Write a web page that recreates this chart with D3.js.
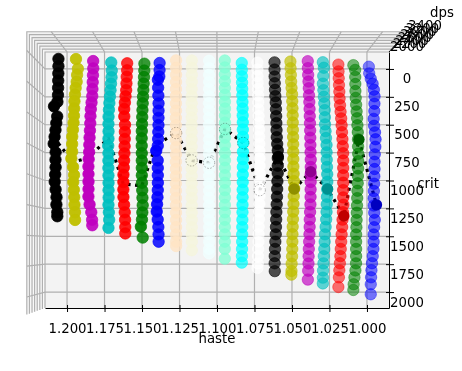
<!DOCTYPE html>
<html>
<head>
<meta charset="utf-8">
<script src="https://cdn.jsdelivr.net/npm/d3@7"></script>
<style>
    body { margin: 0; background: #fff; }
    text { font-family: "DejaVu Sans", sans-serif; }
    svg { filter: blur(0.45px); }
</style>
</head>
<body>
<script>
const w = 462;
const h = 371;

// one colour and one haste value per column
const colors = ["black", "#bfbf00", "#bf00bf", "#00bfbf", "red", "green", "blue", "bisque", "beige", "azure",
    "aquamarine", "aqua", "white", "black", "#bfbf00", "#bf00bf", "#00bfbf", "red", "green", "blue"];
const haste = [1.2, 1.189, 1.179, 1.168, 1.158, 1.147, 1.137, 1.126, 1.116, 1.105,
    1.095, 1.084, 1.074, 1.063, 1.053, 1.042, 1.032, 1.021, 1.011, 1.0];

// crit steps shared by the columns, last point of each column comes from critEnd
const critLevels = [0, 62, 124, 186, 248, 310, 372, 434, 496, 558, 620, 682, 744, 806, 868, 930, 992, 1054,
    1116, 1178, 1240, 1302, 1364, 1426, 1488, 1550, 1612, 1674, 1736, 1798, 1860, 1922, 1984];
const critEnd = [1336, 1367, 1410, 1434, 1480, 1515, 1550, 1587, 1623, 1650,
    1695, 1731, 1776, 1803, 1830, 1875, 1910, 1946, 1973, 2009];

// dps along each column, top to bottom
const dps0 = [2760, 2760, 2770, 2780, 2790, 2800, 2850, 3150, 2870, 2950, 3020, 3100, 3180, 3010, 3020, 3010, 3050, 3090, 3010, 2930, 2940, 2860, 2860];
const dps1 = [2750, 2560, 2640, 2680, 2780, 2850, 2900, 2930, 2950, 2990, 3050, 3120, 3130, 3130, 3210, 3040, 2940, 3020, 2960, 2920, 2900, 2850, 2840];
const dps2 = [2600, 2590, 2620, 2650, 2680, 2700, 2780, 2860, 2900, 2920, 2960, 3000, 3030, 3050, 3100, 3130, 3120, 3120, 3120, 3130, 3000, 2810, 2720, 2700];
const dps3 = [2490, 2420, 2450, 2520, 2580, 2660, 2730, 2790, 2840, 2850, 2840, 2850, 2880, 2850, 2860, 2860, 2850, 2840, 2840, 2830, 2850, 2800, 2760, 2850];
const dps4 = [2430, 2440, 2500, 2540, 2580, 2680, 2780, 2880, 2870, 2760, 2780, 2800, 2820, 2850, 2900, 2950, 3000, 3010, 3010, 3000, 2900, 2800, 2750, 2720, 2720];
const dps5 = [2400, 2420, 2470, 2530, 2590, 2650, 2710, 2760, 2800, 2840, 2880, 2900, 2890, 2880, 2880, 2880, 2870, 2850, 2800, 2760, 2710, 2780, 2850, 3050, 2710];
const dps6 = [2450, 2460, 2520, 2850, 2800, 2750, 2700, 2700, 2710, 2720, 2760, 2800, 2880, 3250, 2900, 2880, 2870, 2860, 2880, 2950, 3050, 3130, 2900, 2750, 2700, 2680];
const dps7 = [2650, 2640, 2650, 2660, 2680, 2700, 2700, 2700, 2710, 2700, 2630, 2660, 2680, 2680, 2690, 2690, 2700, 2700, 2690, 2690, 2680, 2670, 2650, 2650, 2640, 2630, 2620];
const dps8 = [2640, 2640, 2650, 2670, 2690, 2700, 2710, 2720, 2730, 2740, 2750, 2750, 2750, 2750, 2750, 2740, 2730, 2720, 2710, 2700, 2690, 2680, 2670, 2660, 2650, 2640, 2630];
const dps9 = [2620, 2630, 2650, 2670, 2690, 2700, 2720, 2730, 2740, 2750, 2750, 2750, 2750, 2750, 2750, 2750, 2740, 2730, 2720, 2710, 2700, 2690, 2680, 2670, 2660, 2640, 2630, 2620];
const dps10 = [2640, 2660, 2690, 2730, 2780, 2820, 2870, 2920, 2960, 3000, 3020, 2980, 2960, 2940, 2920, 2900, 2880, 2860, 2850, 2840, 2820, 2800, 2770, 2740, 2720, 2710, 2680, 2650];
const dps11 = [2450, 2480, 2540, 2620, 2700, 2780, 2850, 2920, 2980, 3040, 3070, 3100, 3300, 3120, 3100, 3070, 3040, 3000, 2960, 2920, 2890, 2860, 2800, 2740, 2700, 2670, 2600, 2540, 2480];
const dps12 = [2480, 2500, 2540, 2600, 2680, 2760, 2800, 2840, 2920, 2990, 3060, 3120, 3170, 3210, 3240, 3270, 3280, 3290, 3300, 3240, 3180, 3110, 3040, 2960, 2920, 2870, 2760, 2700, 2640, 2520];
const dps13 = [2500, 2500, 2520, 2560, 2620, 2700, 2800, 2850, 2900, 2950, 3000, 3050, 3150, 3300, 3300, 3290, 3280, 3200, 3150, 3100, 3030, 2950, 2900, 2850, 2800, 2700, 2620, 2550, 2530, 2560];
const dps14 = [2560, 2600, 2650, 2700, 2780, 2880, 2920, 2960, 3000, 3020, 3040, 3080, 3100, 3100, 3120, 3130, 3180, 3240, 3290, 3200, 3150, 3100, 3050, 3000, 2960, 2940, 2920, 2880, 2800, 2770, 2740];
const dps15 = [2590, 2610, 2650, 2700, 2750, 2780, 2830, 2870, 2900, 2930, 2960, 2980, 3000, 3020, 3050, 3050, 3040, 3040, 3030, 3020, 3000, 2950, 2900, 2880, 2850, 2800, 2750, 2720, 2700, 2650, 2600];
const dps16 = [2510, 2640, 2560, 2520, 2580, 2640, 2700, 2760, 2780, 2800, 2870, 2930, 3000, 3010, 3030, 3060, 3090, 3100, 3080, 3060, 3030, 3000, 2950, 2880, 2790, 2750, 2700, 2630, 2590, 2540, 2520, 2510];
const dps17 = [2330, 2350, 2370, 2400, 2440, 2470, 2520, 2580, 2650, 2700, 2740, 2790, 2830, 2870, 2880, 2880, 2880, 2880, 2870, 2880, 2900, 2850, 2800, 2760, 2700, 2650, 2600, 2560, 2500, 2440, 2390, 2330];
const dps18 = [2290, 2470, 2480, 2490, 2500, 2530, 2570, 2620, 2670, 2700, 2740, 2760, 2770, 2780, 2780, 2770, 2750, 2730, 2700, 2680, 2660, 2640, 2620, 2600, 2570, 2570, 2570, 2570, 2560, 2500, 2400, 2320, 2290];
const dps19 = [2170, 2200, 2340, 2510, 2620, 2680, 2670, 2660, 2600, 2640, 2720, 2770, 2750, 2700, 2680, 2680, 2660, 2640, 2620, 2600, 2600, 2650, 2700, 2640, 2600, 2600, 2580, 2520, 2450, 2400, 2370, 2340, 2340];
const dpsSeries = [dps0, dps1, dps2, dps3, dps4, dps5, dps6, dps7, dps8, dps9,
    dps10, dps11, dps12, dps13, dps14, dps15, dps16, dps17, dps18, dps19];

// best point of each column, joined by the dotted line
const peakCrit = [692, 890, 860, 680, 1070, 1080, 758, 620, 860, 880, 610, 745, 1130, 860, 1120, 970, 1115, 1335, 690, 1240];
const peakDps = [3180, 3040, 3180, 2850, 3010, 2880, 3300, 2630, 2750, 2750, 3000, 3300, 3300, 3400, 3290, 3050, 3130, 2950, 2850, 2850];

// tick labels
const hasteTicks = [1.2, 1.175, 1.15, 1.125, 1.1, 1.075, 1.05, 1.025, 1.0];
const critTicks = [0, 250, 500, 750, 1000, 1250, 1500, 1750, 2000];
const dpsTicks = [2000, 2200, 2400, 2600, 2800, 3000, 3200, 3400];

// Back plane scales, the domains are the axis limits
const xScale = d3.scaleLinear().domain([1.2147, 0.9853]).range([45, 389]);
const yScale = d3.scaleLinear().domain([-152, 2143]).range([52, 308]);
// Perspective: higher dps sits closer to the camera and is pushed away from the centre
const zScale = d3.scaleLinear().domain([2000, 3400]).range([1, 1.105]);
const depthAlpha = d3.scaleLinear().domain([0, 1]).range([0.45, 1]).clamp(true);
const cx = 218;
const cy = 245;

function project(hasteVal, critVal, dpsVal) {
    const k = zScale(dpsVal);
    return [cx + (xScale(hasteVal) - cx) * k, cy + (yScale(critVal) - cy) * k];
}

const [hMin, hMax] = [xScale.domain()[0], xScale.domain()[1]];
const [cMin, cMax] = yScale.domain();
const zBack = dpsTicks[0];
const zFront = dpsTicks[dpsTicks.length - 1];

const svg = d3.select("body")
    .append("svg")
    .attr("width", w)
    .attr("height", h)
    .style("display", "block");

const polyPath = pts => "M" + pts.map(p => p.join(",")).join("L") + "Z";

// Panes
svg.append("path")
    .attr("d", polyPath([project(hMin, cMin, zBack), project(hMin, cMin, zFront), project(hMin, cMax, zFront), project(hMin, cMax, zBack)]))
    .attr("fill", "#f9f9f9");
svg.append("path")
    .attr("d", polyPath([project(hMin, cMin, zBack), project(hMin, cMin, zFront), project(hMax, cMin, zFront), project(hMax, cMin, zBack)]))
    .attr("fill", "#f2f2f2");
svg.append("path")
    .attr("d", polyPath([project(hMin, cMin, zBack), project(hMax, cMin, zBack), project(hMax, cMax, zBack), project(hMin, cMax, zBack)]))
    .attr("fill", "#f3f3f3");

// Grid lines, each one is a broken line over the walls it crosses
const gridLines = [];
hasteTicks.forEach(t => gridLines.push([project(t, cMin, zFront), project(t, cMin, zBack), project(t, cMax, zBack)]));
critTicks.forEach(t => gridLines.push([project(hMin, t, zFront), project(hMin, t, zBack), project(hMax, t, zBack)]));
dpsTicks.forEach(t => gridLines.push([project(hMin, cMax, t), project(hMin, cMin, t), project(hMax, cMin, t)]));

svg.append("g")
    .selectAll("path")
    .data(gridLines)
    .enter()
    .append("path")
    .attr("d", d => "M" + d.map(p => p.join(",")).join("L"))
    .attr("fill", "none")
    .attr("stroke", "#b0b0b0")
    .attr("stroke-width", 1.2);

// Axes
const xAxis = d3.axisBottom(xScale)
    .tickValues(hasteTicks)
    .tickFormat(d3.format(".3f"))
    .tickSizeOuter(0)
    .tickSizeInner(4)
    .tickPadding(12);
const yAxis = d3.axisRight(yScale)
    .tickValues(critTicks)
    .tickFormat(d3.format("d"))
    .tickSizeOuter(0)
    .tickSizeInner(5);

const xG = svg.append("g")
    .attr("transform", `translate(0,${yScale(cMax)})`)
    .call(xAxis);
const yG = svg.append("g")
    .attr("transform", `translate(${xScale(hMax)},0)`)
    .call(yAxis);

[xG, yG].forEach(g => {
    g.selectAll("text").attr("font-size", 13.3).attr("fill", "#000").attr("font-family", "DejaVu Sans");
    g.select(".domain").attr("stroke", "#000");
});
xG.selectAll(".tick line").attr("y1", -3).attr("stroke", "#000");
yG.selectAll(".tick line").attr("x1", -3).attr("stroke", "#000");
yG.selectAll(".tick text")
    .attr("x", 18)
    .attr("dy", "1.05em")
    .attr("text-anchor", "middle");

// z axis runs from the corner towards the camera
svg.append("path")
    .attr("d", "M" + project(hMax, cMin, zBack).join(",") + "L" + project(hMax, cMin, zFront).join(","))
    .attr("stroke", "#000")
    .attr("fill", "none");

svg.append("g")
    .selectAll("text")
    .data(dpsTicks)
    .enter()
    .append("text")
    .attr("x", d => project(hMax, cMin, d)[0] + 18)
    .attr("y", d => project(hMax, cMin, d)[1] - 6)
    .attr("dy", "0.35em")
    .attr("text-anchor", "middle")
    .attr("font-size", 13.3)
    .text(d => d);

// Axis titles
const titles = [
    { text: "haste", x: 217, y: 338 },
    { text: "crit", x: 428, y: 183 },
    { text: "dps", x: 442, y: 12 }
];
svg.append("g")
    .selectAll("text")
    .data(titles)
    .enter()
    .append("text")
    .attr("x", d => d.x)
    .attr("y", d => d.y)
    .attr("dy", "0.35em")
    .attr("text-anchor", "middle")
    .attr("font-size", 13.3)
    .text(d => d.text);

// Dotted line through the peaks, under the columns
const peaks = haste.map((v, i) => project(v, peakCrit[i], peakDps[i]));
svg.append("path")
    .attr("d", d3.line()(peaks))
    .attr("fill", "none")
    .attr("stroke", "#000")
    .attr("stroke-width", 3.2)
    .attr("stroke-dasharray", "3,4.5");

// Columns of points, faded with depth
dpsSeries.forEach((series, i) => {
    const crit = critLevels.slice(0, series.length - 1).concat(critEnd[i]);
    const points = series.map((d, j) => ({ pos: project(haste[i], crit[j], d), dps: d }));
    const alpha = d => depthAlpha(0.6 * (d.dps - 2000) / 1400 + 0.6 * (1 - i / 19));

    svg.append("g")
        .selectAll("circle")
        .data(points)
        .enter()
        .append("circle")
        .attr("cx", d => d.pos[0])
        .attr("cy", d => d.pos[1])
        .attr("r", 5.7)
        .attr("fill", colors[i])
        .attr("stroke", colors[i])
        .attr("stroke-width", 0.8)
        .attr("fill-opacity", alpha)
        .attr("stroke-opacity", alpha);
});

// Peak markers: hidden in the solid left columns, a faint dotted ring on the pale
// ones, a darker blot on the see-through right ones
const peakMarks = peaks.map((pos, i) => ({ pos, i })).filter(d => d.i >= 7);
svg.append("g")
    .selectAll("circle")
    .data(peakMarks)
    .enter()
    .append("circle")
    .attr("cx", d => d.pos[0])
    .attr("cy", d => d.pos[1])
    .attr("r", 5.7)
    .attr("fill", d => d.i >= 13 ? d3.color(colors[d.i]).darker(0.8) : "none")
    .attr("stroke", d => d.i >= 13 ? "none" : "#000")
    .attr("stroke-opacity", 0.3)
    .attr("stroke-dasharray", "1.5,1.5");
</script>
</body>
</html>
